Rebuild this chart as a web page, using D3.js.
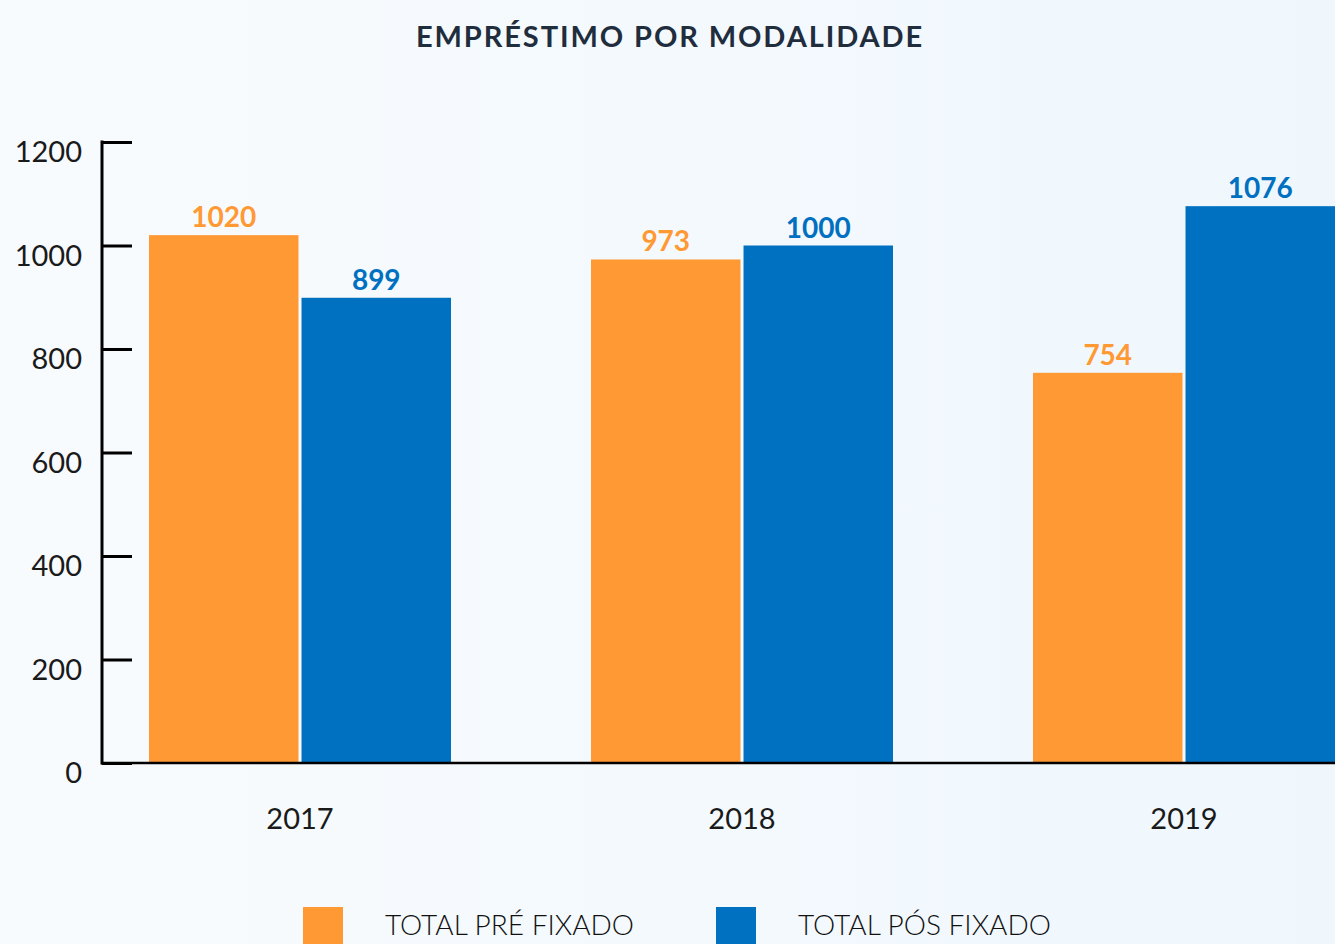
<!DOCTYPE html>
<html>
<head>
<meta charset="utf-8">
<script src="https://cdn.jsdelivr.net/npm/d3@7"></script>
<style>
  html, body { margin: 0; padding: 0; }
  body { width: 1335px; height: 944px; overflow: hidden; }
  svg { display: block; font-family: Lato, "Open Sans", sans-serif; }
</style>
</head>
<body>
<svg id="chart" width="1335" height="944"></svg>
<script>
// Loan volume by modality, per year
const years = ["2017", "2018", "2019"];
const seriesNames = ["TOTAL PRÉ FIXADO", "TOTAL PÓS FIXADO"];
const preFixado = [1020, 973, 754];
const posFixado = [899, 1000, 1076];
const yTicks = [0, 200, 400, 600, 800, 1000, 1200];
const seriesColors = ["#FF9933", "#0070C0"];

const W = 1335, H = 944;
const svg = d3.select("#chart");

// background wash
const defs = svg.append("defs");
const grad = defs.append("linearGradient").attr("id", "bg").attr("x1", "0").attr("x2", "1").attr("y1", "0").attr("y2", "0");
grad.append("stop").attr("offset", "0%").attr("stop-color", "#f8fbfd");
grad.append("stop").attr("offset", "100%").attr("stop-color", "#eff7fd");
svg.append("rect").attr("width", W).attr("height", H).attr("fill", "url(#bg)");

// title
svg.append("text")
  .attr("x", 670).attr("y", 47)
  .attr("text-anchor", "middle")
  .attr("fill", "#1f2d3d")
  .attr("font-size", 29)
  .attr("font-weight", 700)
  .attr("letter-spacing", 1.9)
  .text("EMPRÉSTIMO POR MODALIDADE");

const y = d3.scaleLinear().domain([0, 1200]).range([763, 142]);
const x = d3.scalePoint().domain(years).range([300, 1184]);
const xs = d3.scaleBand().domain(d3.range(seriesNames.length)).range([-151, 151]).paddingInner(0.02);

const rows = years.map((yr, i) => ({ year: yr, values: [preFixado[i], posFixado[i]] }));

// bars
const groups = svg.append("g").selectAll("g").data(rows).join("g")
  .attr("transform", d => `translate(${x(d.year)},0)`);

groups.selectAll("rect").data(d => d.values.map((v, k) => ({ v, k }))).join("rect")
  .attr("x", d => xs(d.k))
  .attr("width", xs.bandwidth())
  .attr("y", d => y(d.v))
  .attr("height", d => y(0) - y(d.v))
  .attr("fill", d => seriesColors[d.k]);

groups.selectAll("text.val").data(d => d.values.map((v, k) => ({ v, k }))).join("text")
  .attr("class", "val")
  .attr("x", d => xs(d.k) + xs.bandwidth() / 2)
  .attr("y", d => y(d.v) - 8)
  .attr("text-anchor", "middle")
  .attr("fill", d => seriesColors[d.k])
  .attr("font-size", 28)
  .attr("font-weight", 700)
  .text(d => d.v);

// y axis
const yAxis = d3.axisRight(y).tickValues(yTicks).tickSize(30).tickFormat("");
const ya = svg.append("g").attr("transform", "translate(102,0)").call(yAxis);
ya.select(".domain").remove();
ya.selectAll(".tick line").attr("stroke", "#000").attr("stroke-width", 3);
svg.append("line").attr("x1", 102).attr("x2", 102).attr("y1", y(1200) - 1.5).attr("y2", y(0) + 1.5)
  .attr("stroke", "#000").attr("stroke-width", 3);

svg.append("g").selectAll("text").data(yTicks).join("text")
  .attr("x", 82).attr("y", d => y(d) + 20)
  .attr("text-anchor", "end")
  .attr("fill", "#1a1a1a")
  .attr("font-size", 29)
  .text(d => d);

// x axis baseline
svg.append("line").attr("x1", 101).attr("x2", W).attr("y1", y(0)).attr("y2", y(0))
  .attr("stroke", "#000").attr("stroke-width", 2.5);

svg.append("g").selectAll("text").data(years).join("text")
  .attr("x", d => x(d)).attr("y", 829)
  .attr("text-anchor", "middle")
  .attr("fill", "#1a1a1a")
  .attr("font-size", 29)
  .text(d => d);

// legend
const legendX = [303, 716];
const lg = svg.append("g").selectAll("g").data(seriesNames).join("g")
  .attr("transform", (d, i) => `translate(${legendX[i]},907)`);
lg.append("rect").attr("width", 40).attr("height", 37).attr("fill", (d, i) => seriesColors[i]);
lg.append("text").attr("x", 82).attr("y", 28)
  .attr("fill", "#111")
  .attr("font-size", 28)
  .attr("font-weight", 300)
  .text(d => d);
</script>
</body>
</html>
